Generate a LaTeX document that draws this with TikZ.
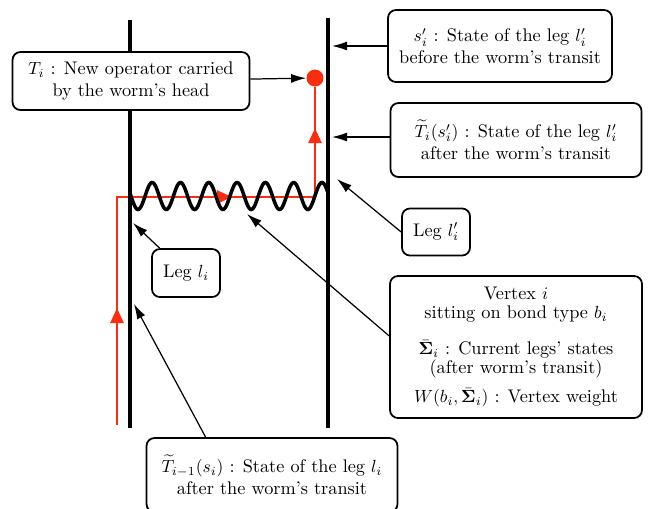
\documentclass[tikz,border=0pt]{standalone}
\usepackage{amsmath}
\usetikzlibrary{arrows.meta,decorations.markings}
\definecolor{wormred}{RGB}{250,45,15}
\tikzset{wormtip/.tip={Triangle[length=3mm,width=2.6mm]}}

\begin{document}
\begin{tikzpicture}[x=0.02cm,y=-0.02cm]
    % --- 样式定义 ---
    \tikzstyle{leg}=[line width=2pt, black]
    \tikzstyle{worm}=[line width=1.6pt, wormred]
    \tikzstyle{infobox}=[draw, line width=1pt, rounded corners=4.5pt, align=center, fill=white, inner sep=2pt,
        font=\fontsize{10.4}{12.6}\selectfont]
    \tikzstyle{pointer}=[-{Latex[length=3mm,width=1.8mm]}, line width=0.7pt]

    \useasboundingbox (0,0) rectangle (662,508);

    % ====== 蠕虫路径 (Worm path) ======
    \coordinate (tail) at (117,425);
    \node[circle, fill=wormred, inner sep=0pt, minimum size=0.34cm] (head) at (315,78) {};
    \draw[worm, postaction={decorate}, decoration={markings,
            mark=at position 2.34cm with {\arrow[wormred]{wormtip}},
            mark=at position 6.86cm with {\arrow[wormred]{wormtip}},
            mark=at position 9.9cm with {\arrow[wormred]{wormtip}}}]
        (tail) -- (117,197) -- (315,197) -- (head);

    % ====== 两条腿与顶点 (Legs and vertex) ======
    \coordinate (Ltop) at (130,20);
    \coordinate (Lbot) at (130,428);
    \coordinate (Rtop) at (328,18);
    \coordinate (Rbot) at (328,428);
    \draw[leg] (Ltop) -- (Lbot);
    \draw[leg] (Rtop) -- (Rbot);
    % 波浪线 (vertex)
    \draw[leg] plot[domain=0:198, samples=200, smooth] ({130+\x}, {196 - 13.5*sin(12.72*\x + 168)});

    % 箭头终点
    \coordinate (sR) at (332,46);
    \coordinate (tR) at (332,137);
    \coordinate (wR) at (337,179);
    \coordinate (wL) at (133,223);
    \coordinate (wM) at (247,214);
    \coordinate (lL) at (134,304);

    % ====== 说明框 (Labels) ======
    \node[infobox, minimum width=4.48cm, minimum height=1.44cm] (sbox) at (500,46)
        {$s'_i$ : State of the leg $l'_i$\\ before the worm's transit};
    \node[infobox, minimum width=5.02cm, minimum height=1.48cm] (tbox) at (516,140)
        {$\widetilde{T}_i(s'_i)$ : State of the leg $l'_i$\\ after the worm's transit};
    \node[infobox, minimum width=4.74cm, minimum height=1.16cm] (headbox) at (131,81)
        {$T_i$ : New operator carried\\ by the worm's head};
    \node[infobox, minimum width=1.36cm, minimum height=0.94cm] (legRbox) at (436,232)
        {Leg $l'_i$};
    \node[infobox, minimum width=1.36cm, minimum height=0.96cm] (legLbox) at (186,273)
        {Leg $l_i$};
    \node[infobox, minimum width=5.04cm, minimum height=2.84cm] (vtxbox) at (516,347)
        {Vertex $i$\\[-1.8pt] sitting on bond type $b_i$\\[8pt]
         $\bar{\mathbf{\Sigma}}_i$ : Current legs' states\\[-1.8pt] (after worm's transit)\\[4pt]
         $W(b_i,\bar{\mathbf{\Sigma}}_i)$ : Vertex weight};
    \node[infobox, minimum width=5.02cm, minimum height=1.48cm] (botbox) at (272,475)
        {$\widetilde{T}_{i-1}(s_i)$ : State of the leg $l_i$\\ after the worm's transit};

    % ====== 指示箭头 (Pointers) ======
    \draw[pointer] (sbox.west) -- (sR);
    \draw[pointer] (tbox.west |- tR) -- (tR);
    \draw[pointer] (headbox) -- (head);
    \draw[pointer] (legRbox.west) -- (wR);
    \draw[pointer] (legLbox) -- (wL);
    \draw[pointer] (vtxbox.175) -- (wM);
    \draw[pointer] ([xshift=1.2cm]botbox.north west) -- (lL);

\end{tikzpicture}
\end{document}
